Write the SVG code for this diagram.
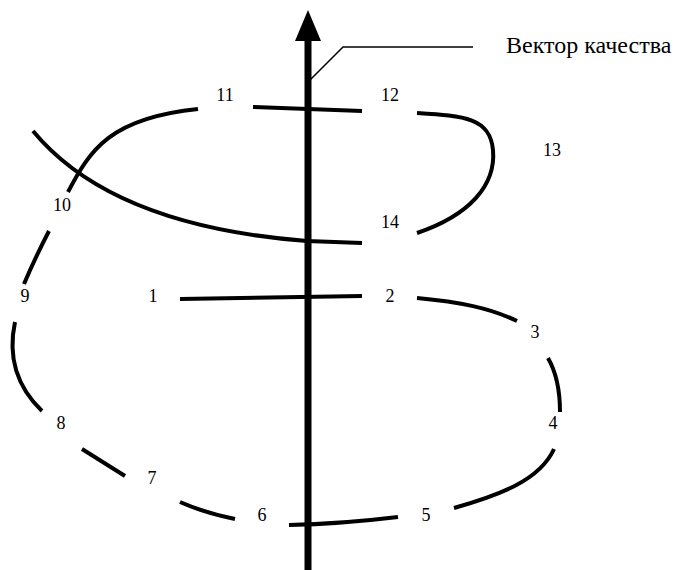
<svg xmlns="http://www.w3.org/2000/svg" width="678" height="570" viewBox="0 0 678 570">
<style>
.c{fill:none;stroke:#000;stroke-width:4;stroke-linecap:butt}
.n{font-family:'Liberation Serif',serif;font-size:18px;fill:#000;text-anchor:middle}
.t{font-family:'Liberation Serif',serif;font-size:24px;fill:#000}
</style>
<rect width="678" height="570" fill="#fff"/>
<g id="axis">
<line x1="308" y1="38" x2="308" y2="570" stroke="#000" stroke-width="7"/>
<polygon points="308,10 295,41 321,41" fill="#000"/>
<polyline points="310,80 343,47 473,47" fill="none" stroke="#000" stroke-width="1.5"/>
<text class="t" x="506" y="53">Вектор качества</text>
</g>
<g id="connectors">
<path class="c" d="M180,299 L362,296"/>
<path class="c" d="M417,298 C460,302 490,308 517,321"/>
<path class="c" d="M548,358 C556,372 560,390 560,412"/>
<path class="c" d="M554,449 C540,480 500,495 454,508"/>
<path class="c" d="M398,517 Q340,524 289,525"/>
<path class="c" d="M235,519 Q205,513 180,502"/>
<path class="c" d="M125,476 L82,449"/>
<path class="c" d="M42,411 C15,385 8,355 15,322"/>
<path class="c" d="M24,284 Q35,258 49,231"/>
<path class="c" d="M68,192 C90,150 110,118 198,109"/>
<path class="c" d="M253,107 L362,111"/>
<path class="c" d="M417,113 C465,116 490,118 493,150 C496,185 470,215 417,233"/>
<path class="c" d="M362,243 L307,241 C190,232 90,200 33,131"/>
</g>
<g id="labels">
<g id="n1"><text class="n" x="153" y="302">1</text></g>
<g id="n2"><text class="n" x="390" y="302">2</text></g>
<g id="n3"><text class="n" x="535" y="338">3</text></g>
<g id="n4"><text class="n" x="553" y="429">4</text></g>
<g id="n5"><text class="n" x="426" y="521">5</text></g>
<g id="n6"><text class="n" x="262" y="521">6</text></g>
<g id="n7"><text class="n" x="152" y="484">7</text></g>
<g id="n8"><text class="n" x="61" y="429">8</text></g>
<g id="n9"><text class="n" x="25" y="302">9</text></g>
<g id="n10"><text class="n" x="62" y="211">10</text></g>
<g id="n11"><text class="n" x="225" y="101">11</text></g>
<g id="n12"><text class="n" x="390" y="101">12</text></g>
<g id="n13"><text class="n" x="552" y="156">13</text></g>
<g id="n14"><text class="n" x="390" y="228">14</text></g>
</g>
</svg>
